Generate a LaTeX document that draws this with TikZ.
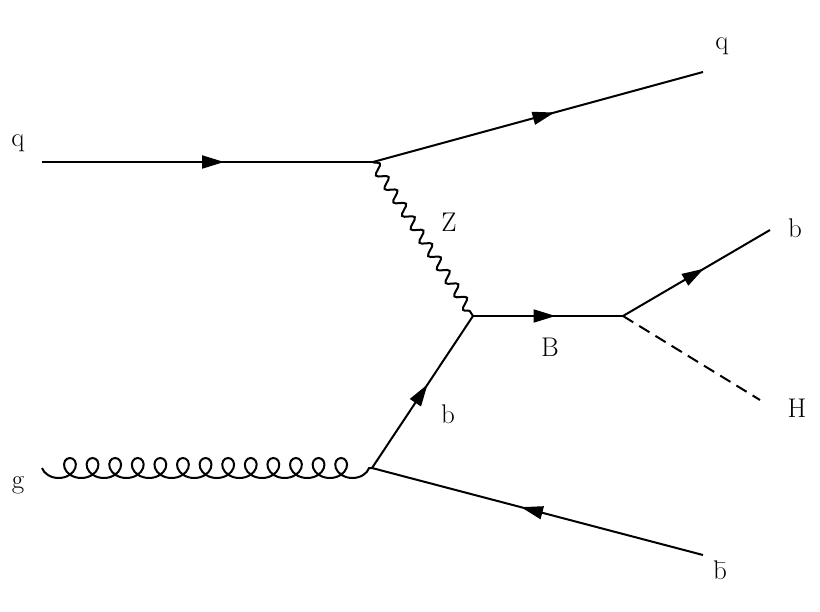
\documentclass[tikz,border=0pt]{standalone}
\usepackage{fontspec}
\usetikzlibrary{decorations.markings,decorations.pathmorphing,arrows.meta}
\begin{document}
\begin{tikzpicture}[x=1pt,y=-1pt,line width=2pt,
  fermion/.style={postaction={decorate},decoration={markings,mark=at position 0.55 with {\arrow{Triangle[length=22pt,width=13pt]}}}},
  photon/.style={decorate,decoration={snake,segment length=16pt,amplitude=5pt}},
  gluon/.style={decorate,decoration={coil,aspect=1.1,segment length=22.6pt,amplitude=10pt,mirror}},
  scalar/.style={dashed,dash pattern=on 12pt off 7pt},
  lbl/.style={font=\fontsize{27}{32}\selectfont}]
\useasboundingbox (0,0) rectangle (820,611);
\coordinate (qin) at (42,162);
\coordinate (v1) at (373,162);
\coordinate (qout) at (703,72);
\coordinate (v2) at (473,316);
\coordinate (v3) at (623,316);
\coordinate (bout) at (770,230);
\coordinate (hout) at (760,400);
\coordinate (v4) at (372,468);
\coordinate (gin) at (42,468);
\coordinate (bbar) at (703,555);
\draw[fermion] (qin) -- (v1);
\draw[fermion] (v1) -- (qout);
\draw[photon] (v1) -- (v2);
\draw[fermion] (v2) -- (v3);
\draw[fermion] (v3) -- (bout);
\draw[scalar] (v3) -- (hout);
\draw[fermion] (v4) -- (v2);
\draw[fermion] (bbar) -- (v4);
\draw[gluon] (gin) -- (v4);
\node[lbl] (lq) at (18,143) {q};
\node[lbl] (lq2) at (722,46) {q};
\node[lbl] (lz) at (449,222) {Z};
\node[lbl] (lB) at (550,347) {B};
\node[lbl] (lb) at (795,228) {b};
\node[lbl] (lH) at (797,408) {H};
\node[lbl] (lb2) at (448,414) {b};
\node[lbl] (lg) at (18,485) {g};
\node[lbl] (lbb) at (720,570) {b̄};
\end{tikzpicture}
\end{document}
